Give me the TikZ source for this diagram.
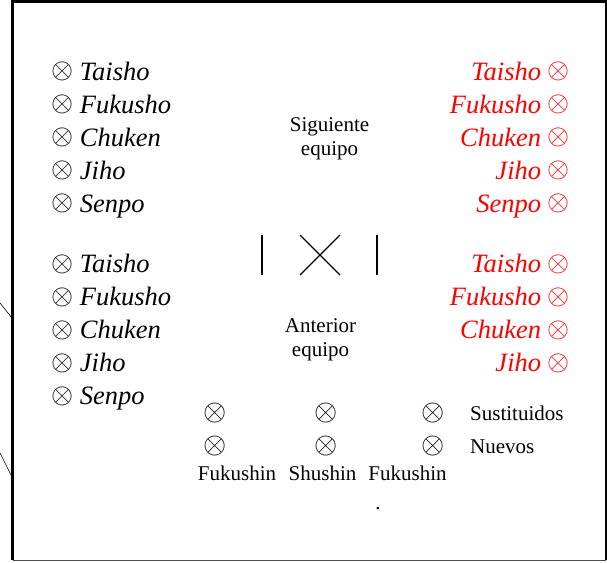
\documentclass[tikz,border=0pt]{standalone}
\usepackage{fontspec}
\setmainfont{Liberation Serif}
\usetikzlibrary{positioning}
\newcommand\ox{\raisebox{1.2pt}{\scalebox{1.14}{$\otimes$}}}
\newcommand\oxs{\scalebox{1.2}{$\otimes$}}
\tikzset{
  member/.style={inner sep=0pt, font=\fontsize{26.5}{30}\selectfont\itshape, text height=18pt, text depth=6pt},
  rival/.style={member, text=red},
  caption/.style={inner sep=0pt, font=\fontsize{21}{24}\selectfont, align=center},
  cross/.style={inner sep=0pt, font=\fontsize{25}{30}\selectfont},
  bar/.style={line width=1.3pt},
  rim/.style={line width=3pt}
}

\begin{document}
\begin{tikzpicture}[x=1pt, y=-1pt, node distance=8.6pt]
  \useasboundingbox (0,0) rectangle (607,562);
  % marco
  \draw[rim] (12.5,560) -- (12.5,1.5) -- (607,1.5);
  \draw[line width=2pt] (605.5,1.5) -- (605.5,560);
  \draw[line width=0.8pt, black!70] (12.5,560) -- (605.5,560);
  \draw[line width=0.6pt] (0,303) -- (12,318);
  \draw[line width=0.6pt] (0,453) -- (12,477);
  % equipo izquierdo
  \node[member, anchor=base west] (la1) at (51,80) {\ox\ Taisho};
  \node[member, below=of la1.south west, anchor=north west] (la2) {\ox\ Fukusho};
  \node[member, below=of la2.south west, anchor=north west] (la3) {\ox\ Chuken};
  \node[member, below=of la3.south west, anchor=north west] (la4) {\ox\ Jiho};
  \node[member, below=of la4.south west, anchor=north west] (la5) {\ox\ Senpo};
  \node[member, below=36.5pt of la5.south west, anchor=north west] (lb1) {\ox\ Taisho};
  \node[member, below=of lb1.south west, anchor=north west] (lb2) {\ox\ Fukusho};
  \node[member, below=of lb2.south west, anchor=north west] (lb3) {\ox\ Chuken};
  \node[member, below=of lb3.south west, anchor=north west] (lb4) {\ox\ Jiho};
  \node[member, below=of lb4.south west, anchor=north west] (lb5) {\ox\ Senpo};
  % equipo derecho
  \node[rival, anchor=base east] (ra1) at (570,80) {Taisho \ox};
  \node[rival, below=of ra1.south east, anchor=north east] (ra2) {Fukusho \ox};
  \node[rival, below=of ra2.south east, anchor=north east] (ra3) {Chuken \ox};
  \node[rival, below=of ra3.south east, anchor=north east] (ra4) {Jiho \ox};
  \node[rival, below=of ra4.south east, anchor=north east] (ra5) {Senpo \ox};
  \node[rival, below=36.5pt of ra5.south east, anchor=north east] (rb1) {Taisho \ox};
  \node[rival, below=of rb1.south east, anchor=north east] (rb2) {Fukusho \ox};
  \node[rival, below=of rb2.south east, anchor=north east] (rb3) {Chuken \ox};
  \node[rival, below=of rb3.south east, anchor=north east] (rb4) {Jiho \ox};
  % centro
  \node[caption] (next) at (329.5,139) {Siguiente\\equipo};
  \node[caption] (prev) at (320.5,340) {Anterior\\equipo};
  \draw[bar] (262,235) -- (262,275);
  \draw[bar] (300,235) -- (340,275) (300,275) -- (340,235);
  \draw[bar] (377,235) -- (377,275);
  % leyenda
  \node[cross] (out1) at (215,413) {\oxs};
  \node[cross] (out2) at (326,413) {\oxs};
  \node[cross] (out3) at (433,413) {\oxs};
  \node[cross] (in1) at (215,446) {\oxs};
  \node[cross] (in2) at (326,446) {\oxs};
  \node[cross] (in3) at (433,446) {\oxs};
  \node[caption, anchor=base west] (outlbl) at (470,420) {Sustituidos};
  \node[caption, anchor=base west] (inlbl) at (470,453.5) {Nuevos};
  \node[caption, anchor=base] (pos1) at (237,480) {Fukushin};
  \node[caption, anchor=base] (pos2) at (322.5,480) {Shushin};
  \node[caption, anchor=base] (pos3) at (407.5,480) {Fukushin};
  \node[caption, anchor=base] (dot) at (378,509) {.};
\end{tikzpicture}
\end{document}
